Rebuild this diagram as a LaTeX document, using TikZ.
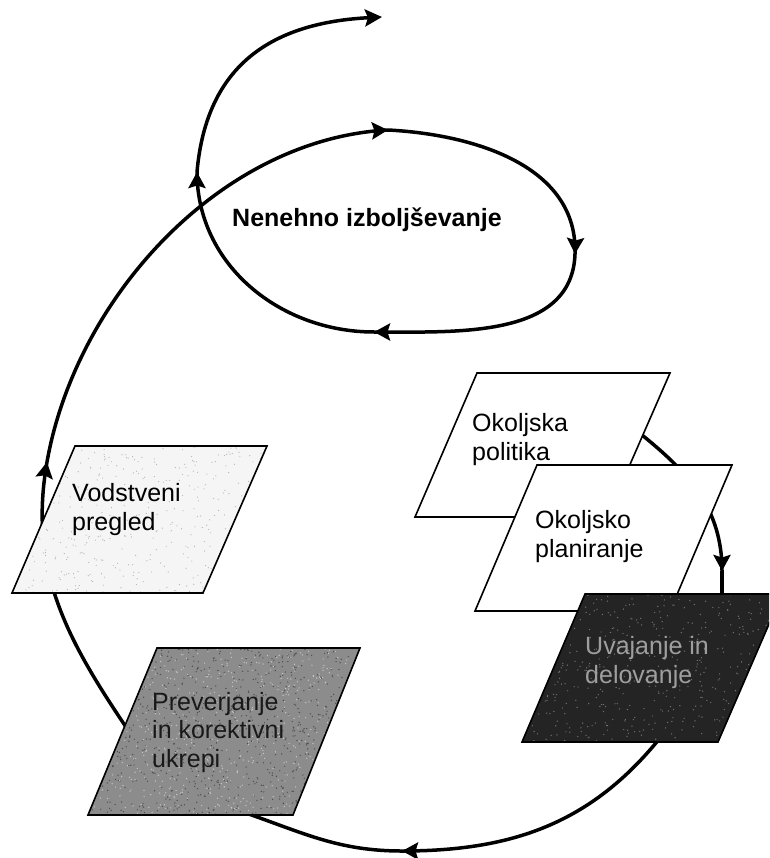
\documentclass[tikz,border=0pt]{standalone}
\usepackage{fontspec}
\setmainfont{Liberation Sans}
\usetikzlibrary{arrows.meta,decorations.markings}
\begin{document}
\begin{tikzpicture}[x=1pt,y=1pt,
  flow/.style={line width=3.5pt, black},
  tipend/.style={decoration={markings,
      mark=at position 0.9999 with {\arrow{Stealth[length=16pt,width=17pt,inset=2.5pt]}}},
    postaction=decorate},
  flowexit/.style={flow, -{Stealth[length=17pt,width=17pt,inset=3pt]}},
  pbox/.style={draw=black, line width=1.6pt, line join=miter},
  boxtext/.style={inner sep=0pt, anchor=base west, align=left,
    font=\fontsize{25}{28.5}\selectfont},
  grain/.style={fill=#1, draw=none}
]
\useasboundingbox (0,-858) rectangle (769,0);
\clip (0,-858) rectangle (769,0);
\pgfmathsetseed{7}

% waypoints of the cycle
\coordinate (pkL)    at (128,-730);
\coordinate (vpUp)   at (47,-462);
\coordinate (eTop)   at (388,-130);
\coordinate (eRight) at (575,-254);
\coordinate (eBot)   at (374,-332);
\coordinate (eLeft)  at (197,-172);
\coordinate (exit)   at (382,-17);
\coordinate (opR)    at (642,-435);
\coordinate (plDown) at (722,-571);
\coordinate (udT)    at (722,-600);
\coordinate (udB)    at (660,-738);
\coordinate (botArr) at (402,-851);
\coordinate (pkB)    at (243,-812);

% connectors (drawn below the boxes), each segment ends in an arrowhead
\draw[flow, tipend] (pkL) to[out=124,in=260] (vpUp);
\draw[flow, tipend] (vpUp) to[out=80,in=183,looseness=0.9] (eTop);
\draw[flow, tipend] (eTop) to[out=-3,in=88] (eRight);
\draw[flow, tipend] (eRight) to[out=-92,in=0] (eBot);
\draw[flow, tipend] (eBot) to[out=180,in=-90] (eLeft);
\draw[flowexit] (eLeft) to[out=85,in=183,looseness=1.15] (exit);
\draw[flow, tipend] (opR) to[out=-39,in=90] (plDown);
\draw[flow] (plDown) -- (udT);
\draw[flow, tipend] (udB) to[out=-129,in=0] (botArr);
\draw[flow] (botArr) to[out=180,in=-19] (pkB);

% central loop label
\node[inner sep=0pt, anchor=base west, font=\bfseries\fontsize{25}{28}\selectfont]
  (ni) at (232,-227) {Nenehno izboljševanje};

% Okoljska politika
\draw[pbox, fill=white] (415,-517) -- (607,-517) -- (670,-373) -- (477,-373) -- cycle;
\node[boxtext] (op) at (472,-460) {Okoljska\\politika};

% Okoljsko planiranje
\draw[pbox, fill=white] (475,-611) -- (670,-611) -- (732,-465) -- (537,-465) -- cycle;
\node[boxtext] (pl) at (535,-557) {Okoljsko\\planiranje};

% Uvajanje in delovanje (dark, grainy)
\begin{scope}
  \clip (522,-742) -- (718,-742) -- (782,-594) -- (585,-594) -- cycle;
  \fill[black!86] (500,-750) rectangle (790,-590);
  \foreach \i in {1,...,500}
    \fill[grain=black!55] ({520+rnd*250},{-742+rnd*148}) circle (0.7);
\end{scope}
\draw[pbox] (522,-742) -- (718,-742) -- (782,-594) -- (585,-594) -- cycle;
\node[boxtext, text=black!38] (ud) at (585,-683) {Uvajanje in\\delovanje};

% Vodstveni pregled (light, speckled)
\begin{scope}
  \clip (12,-593) -- (203,-593) -- (267,-446) -- (75,-446) -- cycle;
  \fill[black!4] (0,-600) rectangle (280,-440);
  \foreach \i in {1,...,450}
    \fill[grain=black!30] ({10+rnd*260},{-593+rnd*147}) circle (0.6);
\end{scope}
\draw[pbox] (12,-593) -- (203,-593) -- (267,-446) -- (75,-446) -- cycle;
\node[boxtext] (vp) at (72,-530) {Vodstveni\\pregled};

% Preverjanje in korektivni ukrepi (mid grey, grainy)
\begin{scope}
  \clip (88,-815) -- (293,-815) -- (360,-648) -- (157,-648) -- cycle;
  \fill[black!45] (80,-820) rectangle (365,-640);
  \foreach \i in {1,...,900}
    \fill[grain=black!70] ({85+rnd*280},{-815+rnd*167}) circle (0.7);
  \foreach \i in {1,...,700}
    \fill[grain=black!22] ({85+rnd*280},{-815+rnd*167}) circle (0.7);
\end{scope}
\draw[pbox] (88,-815) -- (293,-815) -- (360,-648) -- (157,-648) -- cycle;
\node[boxtext, text=black!90] (pk) at (152,-767) {Preverjanje\\in korektivni\\ukrepi};
\end{tikzpicture}
\end{document}
